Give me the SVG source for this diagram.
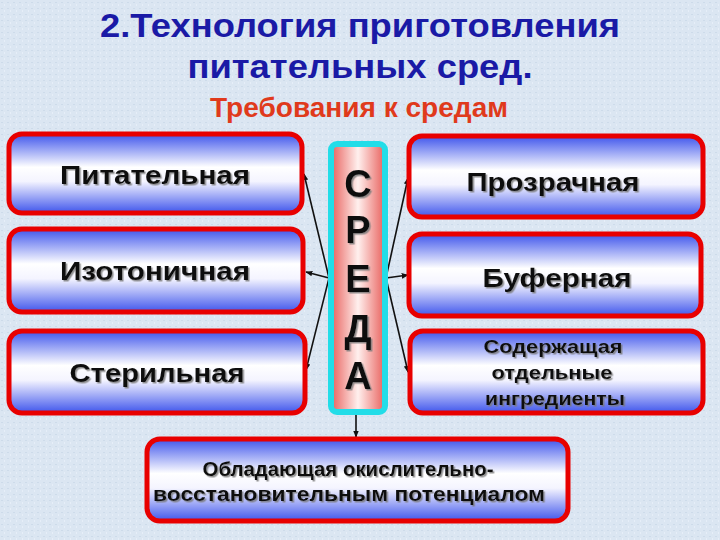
<svg xmlns="http://www.w3.org/2000/svg" width="720" height="540" viewBox="0 0 720 540">
<defs>
<linearGradient id="boxg" x1="0" y1="0" x2="0" y2="1">
<stop offset="0" stop-color="#3f55ec"/>
<stop offset="0.42" stop-color="#ffffff"/>
<stop offset="0.6" stop-color="#f4f4ff"/>
<stop offset="1" stop-color="#3f55ec"/>
</linearGradient>
<linearGradient id="pinkg" x1="0" y1="0" x2="1" y2="0">
<stop offset="0" stop-color="#e8605c"/>
<stop offset="0.5" stop-color="#fff0ee"/>
<stop offset="1" stop-color="#e8605c"/>
</linearGradient>
<pattern id="bgp" width="6" height="6" patternUnits="userSpaceOnUse">
<rect width="6" height="6" fill="#dbe6f2"/>
<rect x="1" y="2" width="2" height="1" fill="#cddbea"/>
<rect x="4" y="4" width="1" height="2" fill="#e6eef8"/>
</pattern>
<filter id="ts" x="-10%" y="-20%" width="130%" height="150%">
<feDropShadow dx="1.5" dy="1.5" stdDeviation="0.3" flood-color="#777777" flood-opacity="0.8"/>
</filter>
<marker id="ah" viewBox="0 0 10 10" refX="9" refY="5" markerWidth="7" markerHeight="7" orient="auto-start-reverse" markerUnits="userSpaceOnUse">
<path d="M0,1 L10,5 L0,9 z" fill="#111"/>
</marker>
<style>
.box{fill:url(#boxg);stroke:#e80000;stroke-width:5}
.t{font-family:"Liberation Sans",Arial,sans-serif;font-weight:bold;fill:#111;text-anchor:middle;filter:url(#ts)}
.h{font-family:"Liberation Sans",Arial,sans-serif;font-weight:bold;text-anchor:middle}
.c{stroke:#111;stroke-width:1.6;fill:none;marker-end:url(#ah)}
</style>
</defs>
<rect width="720" height="540" fill="url(#bgp)"/>
<g id="title">
<text class="h" x="360" y="37" font-size="34" fill="#1a1aa6" textLength="520" lengthAdjust="spacingAndGlyphs">2.Технология приготовления</text>
<text class="h" x="360" y="78" font-size="34" fill="#1a1aa6" textLength="345" lengthAdjust="spacingAndGlyphs">питательных сред.</text>
<text class="h" x="359" y="117" font-size="28" fill="#e03a1c" textLength="298" lengthAdjust="spacingAndGlyphs">Требования к средам</text>
</g>
<g id="connectors">
<line class="c" x1="329" y1="278" x2="304" y2="174"/>
<line class="c" x1="329" y1="278" x2="306" y2="272"/>
<line class="c" x1="329" y1="278" x2="306" y2="370"/>
<line class="c" x1="386" y1="278" x2="408" y2="178"/>
<line class="c" x1="386" y1="278" x2="408" y2="275"/>
<line class="c" x1="386" y1="278" x2="408" y2="372"/>
<line class="c" x1="356" y1="415" x2="356" y2="437"/>
</g>
<g id="n-pitatelnaya">
<rect class="box" x="9" y="134" width="293" height="79" rx="13"/>
<text class="t" x="155" y="184" font-size="26" textLength="190" lengthAdjust="spacingAndGlyphs">Питательная</text>
</g>
<g id="n-izotonichnaya">
<rect class="box" x="9" y="229" width="294" height="83" rx="13"/>
<text class="t" x="155" y="280" font-size="26" textLength="190" lengthAdjust="spacingAndGlyphs">Изотоничная</text>
</g>
<g id="n-sterilnaya">
<rect class="box" x="9" y="331" width="296" height="82" rx="13"/>
<text class="t" x="157" y="382" font-size="26" textLength="175" lengthAdjust="spacingAndGlyphs">Стерильная</text>
</g>
<g id="n-sreda">
<rect x="331" y="144" width="54" height="268" rx="6" fill="url(#pinkg)" stroke="#22dde8" stroke-width="6"/>
<text class="t" x="358" y="197" font-size="38">С</text>
<text class="t" x="358" y="243" font-size="38">Р</text>
<text class="t" x="358" y="292" font-size="38">Е</text>
<text class="t" x="358" y="342" font-size="38">Д</text>
<text class="t" x="358" y="389" font-size="38">А</text>
</g>
<g id="n-prozrachnaya">
<rect class="box" x="409" y="136" width="294" height="81" rx="13"/>
<text class="t" x="553" y="191" font-size="26" textLength="173" lengthAdjust="spacingAndGlyphs">Прозрачная</text>
</g>
<g id="n-bufernaya">
<rect class="box" x="409" y="234" width="292" height="82" rx="13"/>
<text class="t" x="557" y="287" font-size="26" textLength="149" lengthAdjust="spacingAndGlyphs">Буферная</text>
</g>
<g id="n-soderzhashchaya">
<rect class="box" x="410" y="331" width="293" height="82" rx="13"/>
<text class="t" x="553" y="353" font-size="19" textLength="139" lengthAdjust="spacingAndGlyphs">Содержащая</text>
<text class="t" x="552" y="379" font-size="19" textLength="121" lengthAdjust="spacingAndGlyphs">отдельные</text>
<text class="t" x="555" y="405" font-size="19" textLength="140" lengthAdjust="spacingAndGlyphs">ингредиенты</text>
</g>
<g id="n-obladayushchaya">
<rect class="box" x="147" y="439" width="421" height="82" rx="13"/>
<text class="t" x="348" y="476" font-size="20" textLength="291" lengthAdjust="spacingAndGlyphs">Обладающая окислительно-</text>
<text class="t" x="349" y="501" font-size="21" textLength="392" lengthAdjust="spacingAndGlyphs">восстановительным потенциалом</text>
</g>
</svg>
